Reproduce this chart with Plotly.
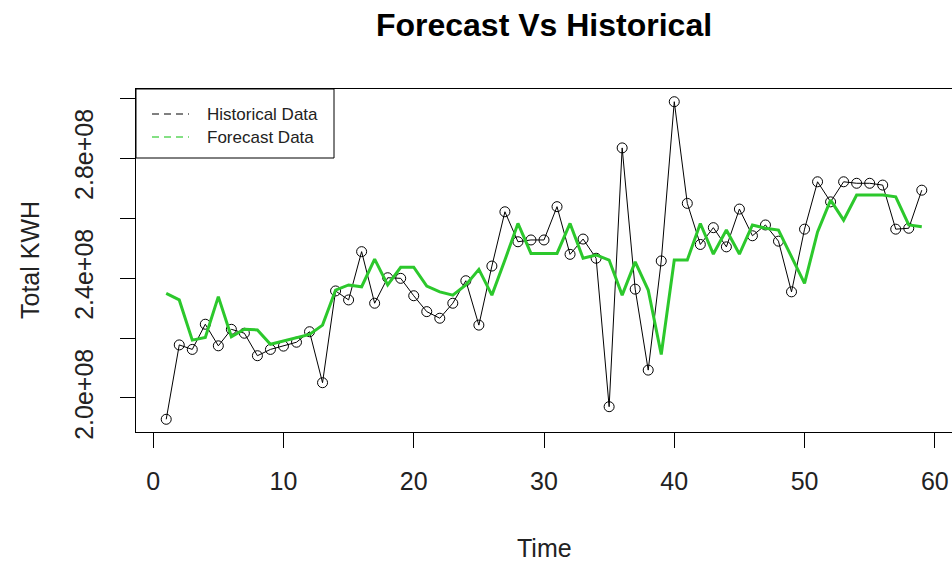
import plotly.graph_objects as go

time = list(range(1, 60))
historical = [1.929, 2.177, 2.162, 2.246, 2.174, 2.229, 2.216, 2.141, 2.162, 2.173,
              2.186, 2.221, 2.051, 2.357, 2.327, 2.488, 2.316, 2.401, 2.399, 2.341,
              2.288, 2.266, 2.316, 2.391, 2.243, 2.440, 2.621, 2.521, 2.527, 2.527,
              2.638, 2.479, 2.530, 2.466, 1.971, 2.834, 2.363, 2.093, 2.457, 2.988,
              2.649, 2.512, 2.568, 2.504, 2.630, 2.541, 2.577, 2.523, 2.354, 2.563,
              2.721, 2.654, 2.721, 2.716, 2.716, 2.710, 2.563, 2.566, 2.693]
forecast = [2.349, 2.327, 2.193, 2.202, 2.338, 2.204, 2.229, 2.227, 2.179, 2.190,
            2.199, 2.212, 2.243, 2.360, 2.377, 2.371, 2.463, 2.377, 2.436, 2.436,
            2.373, 2.354, 2.343, 2.377, 2.429, 2.343, 2.460, 2.582, 2.482, 2.482,
            2.482, 2.582, 2.466, 2.477, 2.460, 2.343, 2.454, 2.360, 2.145, 2.460,
            2.460, 2.582, 2.480, 2.560, 2.480, 2.577, 2.566, 2.560, 2.471, 2.382,
            2.554, 2.660, 2.593, 2.677, 2.677, 2.677, 2.671, 2.577, 2.571]
historical = [v * 1e8 for v in historical]
forecast = [v * 1e8 for v in forecast]

x_ticks = [0, 10, 20, 30, 40, 50, 60]
y_ticks = [2.0e8, 2.2e8, 2.4e8, 2.6e8, 2.8e8, 3.0e8]
y_ticktext = ["2.0e+08", "", "2.4e+08", "", "2.8e+08", ""]
legend_labels = ["Historical Data", "Forecast Data"]

FONT = "Liberation Sans, Arial, sans-serif"
GREEN = "#2cc82c"
LEG_GREEN = "#5cd65c"

W, H = 952, 562
ML, MR, MT, MB = 136, 0, 89, 130
PW, PH = W - ML - MR, H - MT - MB


def px(xp):
    return (xp - ML) / PW


def py(yp):
    return (H - MB - yp) / PH


fig = go.Figure()
fig.add_trace(go.Scatter(x=time, y=historical, mode="lines+markers",
                         line=dict(color="black", width=1),
                         marker=dict(symbol="circle-open", size=10, color="black",
                                     line=dict(width=1, color="black")),
                         showlegend=False))
fig.add_trace(go.Scatter(x=time, y=forecast, mode="lines",
                         line=dict(color=GREEN, width=3),
                         showlegend=False))

shapes = [
    dict(type="rect", xref="paper", yref="paper", x0=px(136), x1=px(334),
         y0=py(158), y1=1, line=dict(color="black", width=1), fillcolor="white",
         layer="above"),
    dict(type="line", xref="paper", yref="paper", x0=px(152), x1=px(189),
         y0=py(114), y1=py(114), line=dict(color="black", width=1, dash="7px,5px"),
         layer="above"),
    dict(type="line", xref="paper", yref="paper", x0=px(152), x1=px(189),
         y0=py(137), y1=py(137), line=dict(color=LEG_GREEN, width=1.3, dash="7px,5px"),
         layer="above"),
]

annotations = [
    dict(text=legend_labels[0], x=px(205), y=py(114), xref="paper", yref="paper",
         showarrow=False, xanchor="left", yanchor="middle",
         font=dict(size=17, color="#222")),
    dict(text=legend_labels[1], x=px(205), y=py(137), xref="paper", yref="paper",
         showarrow=False, xanchor="left", yanchor="middle",
         font=dict(size=17, color="#222")),
    dict(text="Time", x=0.5, xref="paper", y=py(548), yref="paper", showarrow=False,
         font=dict(size=25, color="#222"), xanchor="center", yanchor="middle"),
    dict(text="Total KWH", x=px(30), y=py(260), xref="paper", yref="paper",
         showarrow=False, textangle=-90,
         font=dict(size=25, color="#222"), xanchor="center", yanchor="middle"),
]

fig.update_layout(
    width=W, height=H,
    margin=dict(l=ML, r=MR, t=MT, b=MB),
    paper_bgcolor="white", plot_bgcolor="white",
    font=dict(family=FONT, color="#222"),
    showlegend=False,
    title=dict(text="<b>Forecast Vs Historical</b>", x=0.5, xref="paper",
               y=1 - 25 / H, yref="container", xanchor="center", yanchor="middle",
               font=dict(size=32, color="black", family=FONT)),
    xaxis=dict(range=[-1.32, 61.32], tickvals=x_ticks, ticks="outside", ticklen=15,
               tickcolor="black", showline=True, linecolor="black", linewidth=1,
               mirror=True, showgrid=False, zeroline=False,
               tickfont=dict(size=25, color="#222"), ticklabelstandoff=12),
    yaxis=dict(range=[1.8866e8, 3.0304e8], tickvals=y_ticks, ticktext=y_ticktext,
               ticks="outside", ticklen=15, tickcolor="black", showline=True,
               linecolor="black", linewidth=1, mirror=True, showgrid=False,
               zeroline=False, tickangle=-90,
               tickfont=dict(size=25, color="#222"), ticklabelstandoff=17),
    shapes=shapes,
    annotations=annotations,
)

fig.write_html("out.html",
               config={"displayModeBar": False},
               post_script="document.body.style.margin='0';document.body.style.overflow='hidden';")
